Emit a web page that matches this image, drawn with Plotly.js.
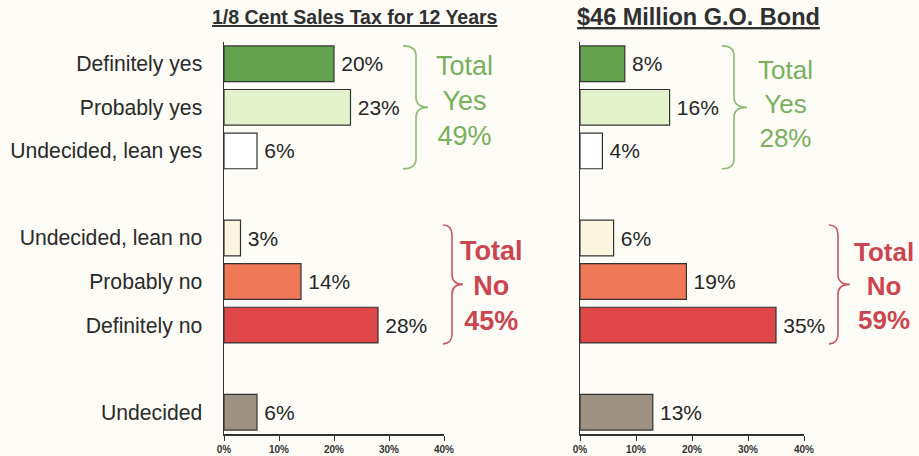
<!DOCTYPE html>
<html>
<head>
<meta charset="utf-8">
<script src="https://cdn.plot.ly/plotly-3.0.1.min.js"></script>
<style>html,body{margin:0;padding:0;background:#fdfcf6;}</style>
</head>
<body>
<div id="chart" style="width:919px;height:456px;"></div>
<script>
// ---- data ----
const categories = ['Definitely yes', 'Probably yes', 'Undecided, lean yes', ' ',
                    'Undecided, lean no', 'Probably no', 'Definitely no', '  ', 'Undecided'];
const salesTax = [20, 23, 6, null, 3, 14, 28, null, 6];
const goBond   = [8, 16, 4, null, 6, 19, 35, null, 13];
const barColors = ['#62a24c', '#e3f2cb', '#ffffff', '#ffffff', '#fbf5df', '#ef7858', '#de4648', '#ffffff', '#9d9183'];
const titles = ['1/8 Cent Sales Tax for 12 Years', '$46 Million G.O. Bond'];
const totalsYes = [49, 28];
const totalsNo = [45, 59];
const xTicks = [0, 10, 20, 30, 40];
const xTickText = ['0%', '10%', '20%', '30%', '40%'];

// ---- layout helpers ----
const W = 919, H = 456, T = 42, B = 22;
const plotH = H - T - B;
const px2x = p => p / W;
const py2y = p => (H - B - p) / plotH;
const slotY = i => 1 - (i + 0.5) / categories.length;   // paper y of a category slot
const slotH = 1 / categories.length;

function bracePath(xa, xv, xt, yTop, yBot) {
  // x in pixels, y in paper units
  const r = 10 / plotH;
  const ym = (yTop + yBot) / 2;
  const X = p => px2x(p).toFixed(5);
  const f = v => v.toFixed(5);
  return `M${X(xa)},${f(yTop)} Q${X(xv)},${f(yTop)} ${X(xv)},${f(yTop - r)} ` +
         `L${X(xv)},${f(ym + r)} Q${X(xv)},${f(ym)} ${X(xt)},${f(ym)} ` +
         `Q${X(xv)},${f(ym)} ${X(xv)},${f(ym - r)} ` +
         `L${X(xv)},${f(yBot + r)} Q${X(xv)},${f(yBot)} ${X(xa)},${f(yBot)}`;
}

const labels = arr => arr.map(v => v == null ? '' : '\u2009' + v + '%');

function barTrace(vals, xa, ya) {
  return {
    type: 'bar', orientation: 'h',
    x: vals, y: categories,
    xaxis: xa, yaxis: ya,
    marker: {color: barColors, line: {color: '#333333', width: 1.2}},
    text: labels(vals),
    textposition: 'outside',
    constraintext: 'none',
    cliponaxis: false,
    textfont: {family: 'Liberation Sans, Arial, sans-serif', size: 21, color: '#262626'},
    hoverinfo: 'none'
  };
}

const data = [barTrace(salesTax, 'x', 'y'), barTrace(goBond, 'x2', 'y2')];

const axisX = dom => ({
  domain: dom, range: [0, 40], fixedrange: true,
  showline: true, linecolor: '#333333', linewidth: 1.5,
  showgrid: false, zeroline: false,
  ticks: 'outside', ticklen: 5, tickcolor: '#333333',
  tickmode: 'array', tickvals: xTicks, ticktext: xTickText,
  tickfont: {family: 'Liberation Sans, Arial, sans-serif', size: 10, color: '#333333', weight: 'bold'}
});
const axisY = (show, anchor) => ({
  type: 'category', categoryorder: 'array', categoryarray: categories,
  range: [categories.length - 0.5, -0.5], anchor: anchor,
  showline: true, linecolor: '#333333', linewidth: 1.5,
  showgrid: false, zeroline: false,
  showticklabels: show,
  ticks: show ? 'outside' : '', ticklen: 16, tickcolor: 'rgba(0,0,0,0)',
  tickfont: {family: 'Liberation Sans, Arial, sans-serif', size: 21.2, color: '#2a2a2a'}
});

const green = '#78b05c', greenLine = '#8cba72';
const red = '#cb4550', redLine = '#c95862';
const yesTop = slotY(0) + 0.41 * slotH, yesBot = slotY(2) - 0.41 * slotH;
const noTop = slotY(4) + 0.30 * slotH, noBot = slotY(6) - 0.43 * slotH;

const shapes = [
  {type: 'path', xref: 'paper', yref: 'paper', path: bracePath(403, 416, 428, yesTop, yesBot), line: {color: greenLine, width: 1.6}},
  {type: 'path', xref: 'paper', yref: 'paper', path: bracePath(443, 452, 463, noTop, noBot), line: {color: redLine, width: 1.6}},
  {type: 'path', xref: 'paper', yref: 'paper', path: bracePath(722, 734, 747, yesTop, yesBot), line: {color: greenLine, width: 1.6}},
  {type: 'path', xref: 'paper', yref: 'paper', path: bracePath(829, 838, 850, noTop, noBot), line: {color: redLine, width: 1.6}}
];

const annFont = {family: 'Liberation Sans, Arial, sans-serif'};
const annotations = [
  {xref: 'paper', yref: 'paper', x: px2x(355), y: py2y(17), xanchor: 'center', yanchor: 'middle', showarrow: false,
   text: '<b><u>' + titles[0] + '</u></b>', font: Object.assign({size: 19.5, color: '#303030'}, annFont)},
  {xref: 'paper', yref: 'paper', x: px2x(698), y: py2y(17), xanchor: 'center', yanchor: 'middle', showarrow: false,
   text: '<b><u>' + titles[1] + '</u></b>', font: Object.assign({size: 23.5, color: '#303030'}, annFont)},
  {xref: 'paper', yref: 'paper', x: px2x(464), y: py2y(101), xanchor: 'center', yanchor: 'middle', showarrow: false,
   text: 'Total<br>Yes<br>' + totalsYes[0] + '%', font: Object.assign({size: 27, color: green}, annFont)},
  {xref: 'paper', yref: 'paper', x: px2x(785), y: py2y(104), xanchor: 'center', yanchor: 'middle', showarrow: false,
   text: 'Total<br>Yes<br>' + totalsYes[1] + '%', font: Object.assign({size: 26, color: green}, annFont)},
  {xref: 'paper', yref: 'paper', x: px2x(491), y: py2y(286), xanchor: 'center', yanchor: 'middle', showarrow: false,
   text: '<b>Total<br>No<br>' + totalsNo[0] + '%</b>', font: Object.assign({size: 27, color: red}, annFont)},
  {xref: 'paper', yref: 'paper', x: px2x(884), y: py2y(286), xanchor: 'center', yanchor: 'middle', showarrow: false,
   text: '<b>Total<br>No<br>' + totalsNo[1] + '%</b>', font: Object.assign({size: 26, color: red}, annFont)}
];

const layout = {
  width: W, height: H,
  margin: {l: 0, r: 0, t: T, b: B, pad: 0},
  paper_bgcolor: '#fdfcf6', plot_bgcolor: '#fdfcf6',
  showlegend: false,
  bargap: 0.18,
  xaxis: axisX([px2x(224), px2x(444)]),
  xaxis2: axisX([px2x(580), px2x(804)]),
  yaxis: axisY(true, 'x'),
  yaxis2: axisY(false, 'x2'),
  shapes: shapes,
  annotations: annotations,
  font: {family: 'Liberation Sans, Arial, sans-serif', color: '#2a2a2a'}
};

Plotly.newPlot('chart', data, layout, {displayModeBar: false, staticPlot: true});
</script>
</body>
</html>
